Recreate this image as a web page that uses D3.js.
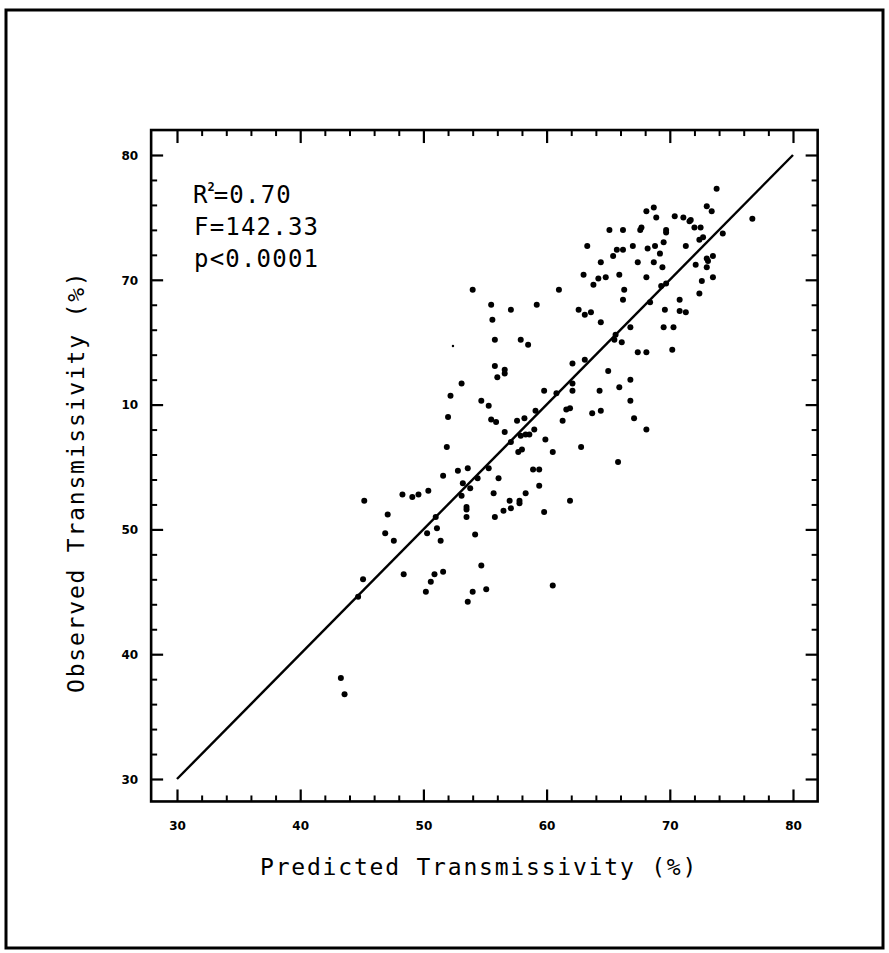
<!DOCTYPE html>
<html>
<head>
<meta charset="utf-8">
<script src="https://cdn.jsdelivr.net/npm/d3@7"></script>
<style>
  body { margin: 0; background: #fff; }
  svg { display: block; }
</style>
</head>
<body>
<svg id="chart" width="889" height="953"></svg>
<script>
// predicted vs observed transmissivity (%)
const predicted = [
  52.2,54.7,55.3,52.0,55.5,55.9,51.9,52.8,53.6,55.3,51.6,54.4,56.1,53.2,53.8,55.7,53.1,48.3,49.1,49.6,
  50.4,45.2,53.5,53.5,53.5,55.8,47.1,51.0,46.9,47.6,50.3,51.1,51.4,54.2,54.7,45.1,48.4,50.9,51.6,50.6,
  44.7,50.2,54.0,55.1,53.6,43.3,43.6,
  54.0,61.0,55.5,59.2,57.1,55.6,55.8,57.9,58.5,55.8,56.6,56.6,56.0,53.1,59.8,60.8,61.6,59.1,57.6,58.2,
  61.3,56.6,59.0,57.9,58.3,58.6,57.1,59.9,57.7,58.0,60.5,65.8,58.9,59.4,59.4,58.3,57.0,57.8,57.8,57.1,
  56.5,59.8,61.9,60.5,
  73.8,73.0,73.4,76.7,68.7,68.1,68.9,70.4,71.1,71.7,71.6,72.0,72.5,65.1,66.2,67.7,67.6,69.7,69.7,74.3,
  72.7,72.4,63.3,65.7,66.2,67.0,68.2,68.8,69.5,71.3,69.2,65.4,73.5,73.0,73.1,64.4,67.4,68.7,72.1,73.0,
  69.4,63.0,65.9,64.8,64.2,68.1,73.5,63.8,72.6,69.7,69.3,66.3,66.2,72.4,68.4,70.8,62.6,63.1,63.6,69.6,
  70.8,71.3,64.4,66.8,69.5,70.3,65.6,65.5,66.1,67.4,68.1,70.2,62.1,63.1,65.0,66.8,62.1,62.1,65.9,64.3,
  66.8,61.9,63.7,64.4,67.1,68.1,62.8
];
const observed = [
  60.7,60.3,59.9,59.0,58.8,58.6,56.6,54.7,54.9,54.9,54.3,54.1,54.1,53.7,53.3,52.9,52.7,52.8,52.6,52.8,
  53.1,52.3,51.8,51.6,51.0,51.0,51.2,51.0,49.7,49.1,49.7,50.1,49.1,49.6,47.1,46.0,46.4,46.4,46.6,45.8,
  44.6,45.0,45.0,45.2,44.2,38.1,36.8,
  69.2,69.2,68.0,68.0,67.6,66.8,65.2,65.2,64.8,63.1,62.8,62.5,62.2,61.7,61.1,60.9,59.6,59.5,58.7,58.9,
  58.7,57.8,58.0,57.5,57.6,57.6,57.0,57.2,56.2,56.4,56.2,55.4,54.8,54.8,53.5,52.9,52.3,52.3,52.1,51.7,
  51.5,51.4,52.3,45.5,
  77.3,75.9,75.5,74.9,75.8,75.5,75.0,75.1,75.0,74.8,74.7,74.2,74.2,74.0,74.0,74.2,74.0,74.0,73.8,73.7,
  73.4,73.2,72.7,72.4,72.4,72.7,72.5,72.7,73.0,72.7,72.1,71.9,71.9,71.7,71.5,71.4,71.4,71.4,71.2,71.0,
  71.0,70.4,70.4,70.2,70.1,70.2,70.2,69.6,69.9,69.7,69.5,69.2,68.4,68.9,68.2,68.4,67.6,67.2,67.4,67.6,
  67.5,67.4,66.6,66.2,66.2,66.2,65.6,65.2,65.0,64.2,64.2,64.4,63.3,63.6,62.7,62.0,61.7,61.1,61.4,61.1,
  60.3,59.7,59.3,59.5,58.9,58.0,56.6
];
// one faint speck near (52.4, 64.7)
const faintPredicted = [52.4];
const faintObserved = [64.7];

const majorTicks = [30, 40, 50, 60, 70, 80];
const minorTicks = d3.range(30, 81, 2).filter(v => v % 10 !== 0);
const xTickLabels = ["30", "40", "50", "60", "70", "80"];
const yTickLabels = ["30", "40", "50", "10", "70", "80"];
const fitLine = [30, 80];
const statLines = ["F=142.33", "p<0.0001"];

const svg = d3.select("#chart");
const mono = "'DejaVu Sans Mono', 'Liberation Mono', monospace";

const x = d3.scaleLinear().domain([30, 80]).range([177, 793]);
const y = d3.scaleLinear().domain([30, 80]).range([779, 155]);

const frameL = x(27.9), frameR = x(82), frameT = y(82), frameB = y(28.2);

svg.append("rect")
  .attr("width", 889).attr("height", 953).attr("fill", "#fff");

// outer figure border
svg.append("rect")
  .attr("x", 6).attr("y", 10).attr("width", 877).attr("height", 938)
  .attr("fill", "none").attr("stroke", "#000").attr("stroke-width", 3);

function tickAxis(axis, tx, ty, vals, size, labels, sw) {
  const g = svg.append("g").attr("transform", `translate(${tx},${ty})`)
    .call(axis.tickValues(vals).tickSize(size).tickSizeOuter(0)
      .tickFormat(labels ? (d, i) => labels[i] : ""));
  g.select(".domain").remove();
  g.selectAll(".tick line").attr("stroke", "#000").attr("stroke-width", sw);
  return g;
}

// bottom
const gx = tickAxis(d3.axisBottom(x), 0, frameB, majorTicks, -12, xTickLabels, 2.2);
tickAxis(d3.axisBottom(x), 0, frameB, minorTicks, -6, null, 2);
gx.selectAll(".tick text")
  .attr("y", 29).attr("dy", 0)
  .attr("font-family", "'DejaVu Sans', sans-serif")
  .attr("font-weight", "bold").attr("font-size", 12).attr("fill", "#000");

// top
tickAxis(d3.axisTop(x), 0, frameT, majorTicks, -13, null, 2.2);
tickAxis(d3.axisTop(x), 0, frameT, minorTicks, -6, null, 2);

// left
const gy = tickAxis(d3.axisLeft(y), frameL, 0, majorTicks, -12, yTickLabels, 2.2);
tickAxis(d3.axisLeft(y), frameL, 0, minorTicks, -6, null, 2);
gy.selectAll(".tick text")
  .attr("x", -13).attr("dy", "0.36em")
  .attr("font-family", "'DejaVu Sans', sans-serif")
  .attr("font-weight", "bold").attr("font-size", 12).attr("fill", "#000");

// right
tickAxis(d3.axisRight(y), frameR, 0, majorTicks, -12, null, 2.2);
tickAxis(d3.axisRight(y), frameR, 0, minorTicks, -6, null, 2);

// plot frame
svg.append("rect")
  .attr("x", frameL).attr("y", frameT)
  .attr("width", frameR - frameL).attr("height", frameB - frameT)
  .attr("fill", "none").attr("stroke", "#000").attr("stroke-width", 2.6);

// 1:1 line
svg.append("line")
  .attr("x1", x(fitLine[0])).attr("y1", y(fitLine[0]))
  .attr("x2", x(fitLine[1])).attr("y2", y(fitLine[1]))
  .attr("stroke", "#000").attr("stroke-width", 2.4);

// points
svg.append("g").selectAll("circle")
  .data(predicted.map((p, i) => [p, observed[i]]))
  .join("circle")
  .attr("cx", d => x(d[0])).attr("cy", d => y(d[1]))
  .attr("r", 3).attr("fill", "#000");

svg.append("g").selectAll("circle")
  .data(faintPredicted.map((p, i) => [p, faintObserved[i]]))
  .join("circle")
  .attr("cx", d => x(d[0])).attr("cy", d => y(d[1]))
  .attr("r", 1.2).attr("fill", "#000");

// stats text
const st = svg.append("g")
  .attr("font-family", mono).attr("font-size", 24).attr("fill", "#000")
  .attr("letter-spacing", 1.2);
const r2 = st.append("text").attr("x", 193).attr("y", 203);
r2.append("tspan").attr("letter-spacing", 0).text("R");
r2.append("tspan").attr("dy", -12)
  .attr("font-size", 12).attr("font-weight", "bold").attr("letter-spacing", 0)
  .text("2");
r2.append("tspan").attr("dx", -1).attr("dy", 12).text("=0.70");
st.selectAll("text.line")
  .data(statLines)
  .join("text").attr("class", "line")
  .attr("x", 194).attr("y", (d, i) => 235 + i * 32)
  .text(d => d);

// axis titles
svg.append("text")
  .attr("x", 260).attr("y", 875)
  .attr("font-family", mono).attr("font-size", 23).attr("letter-spacing", 1.8)
  .attr("fill", "#000")
  .text("Predicted Transmissivity (%)");

svg.append("text")
  .attr("transform", "translate(84,693) rotate(-90)")
  .attr("font-family", mono).attr("font-size", 23).attr("letter-spacing", 1.8)
  .attr("fill", "#000")
  .text("Observed Transmissivity (%)");
</script>
</body>
</html>
